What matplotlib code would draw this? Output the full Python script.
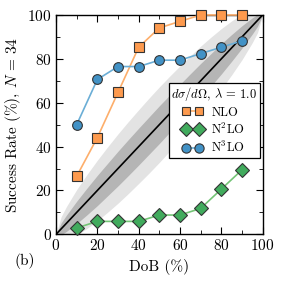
import numpy as np
import matplotlib
matplotlib.use("Agg")
import matplotlib.pyplot as plt
from matplotlib.ticker import MultipleLocator

# ── Data (success rate in %, N = 34) ──
dob = [10, 20, 30, 40, 50, 60, 70, 80, 90]
nlo = [26.5, 44.1, 64.7, 85.3, 94.1, 97.1, 100.0, 100.0, 100.0]
n2lo = [2.9, 5.9, 5.9, 5.9, 8.8, 8.8, 11.8, 20.6, 29.4]
n3lo = [50.0, 70.6, 76.5, 76.5, 79.4, 79.4, 82.4, 85.3, 88.2]

# band half-widths around the diagonal
band_x = [0, 2.5, 5, 10, 15, 20, 25, 30, 35, 40, 45, 50,
          55, 60, 65, 70, 75, 80, 85, 90, 95, 97.5, 100]
band_1 = [0, 2.7, 3.7, 5.1, 6.1, 6.9, 7.4, 7.9, 8.2, 8.4, 8.5, 8.6,
          8.5, 8.4, 8.2, 7.9, 7.4, 6.9, 6.1, 5.1, 3.7, 2.7, 0]
band_2 = [0, 5.6, 7.6, 10.4, 12.3, 13.8, 14.9, 15.8, 16.4, 16.8, 17.1, 17.2,
          17.1, 16.8, 16.4, 15.8, 14.9, 13.8, 12.3, 10.4, 7.6, 5.6, 0]

FS = 11

plt.rcParams["font.family"] = "serif"
plt.rcParams["font.serif"] = ["cmr10"]
plt.rcParams["mathtext.fontset"] = "cm"
plt.rcParams["axes.formatter.use_mathtext"] = True
plt.rcParams["font.size"] = FS

fig = plt.figure(figsize=(2.83, 2.83), dpi=100)
ax = fig.add_axes([0.198, 0.172, 0.730, 0.775])

bx = np.array(band_x)
b1 = np.array(band_1)
b2 = np.array(band_2)
ax.fill_between(bx, bx - b2, bx + b2, color="#e3e3e3", lw=0, zorder=1)
ax.fill_between(bx, bx - b1, bx + b1, color="#b5b5b5", lw=0, zorder=2)
ax.plot([0, 100], [0, 100], color="k", lw=1.2, zorder=3)

ax.plot(dob, nlo, marker="s", ms=6.5, color="#fdae6b", mfc="#fd9a4e",
        mec="#333333", mew=0.8, lw=1.2, label="NLO", zorder=5, clip_on=False)
ax.plot(dob, n2lo, marker="D", ms=7, color="#74c476", mfc="#41ab5d",
        mec="#333333", mew=0.8, lw=1.2, label=r"N$^2$LO", zorder=5, clip_on=False)
ax.plot(dob, n3lo, marker="o", ms=7, color="#6baed6", mfc="#4292c6",
        mec="#333333", mew=0.8, lw=1.2, label=r"N$^3$LO", zorder=5, clip_on=False)

ax.set_xlim(0, 100)
ax.set_ylim(0, 100)
ax.xaxis.set_major_locator(MultipleLocator(20))
ax.yaxis.set_major_locator(MultipleLocator(20))
ax.xaxis.set_minor_locator(MultipleLocator(10))
ax.yaxis.set_minor_locator(MultipleLocator(10))
ax.tick_params(which="both", direction="in", top=True, right=True,
               labelsize=FS)
ax.tick_params(which="major", length=5, width=0.8, pad=3)
ax.tick_params(which="minor", length=3, width=0.6)
for s in ax.spines.values():
    s.set_linewidth(1.0)

ax.set_xlabel("DoB (%)", labelpad=4)
ax.set_ylabel(r"Success Rate (%), $N$ = 34", labelpad=3)

leg = ax.legend(loc="lower right", bbox_to_anchor=(0.985, 0.35),
                title=r"$d\sigma/d\Omega$, $\lambda$ = 1.0", numpoints=2,
                fancybox=False, edgecolor="k", framealpha=1,
                borderaxespad=0, handlelength=1.6, handletextpad=0.7,
                labelspacing=0.25, borderpad=0.2, fontsize=9,
                title_fontsize=9, markerscale=0.95)
leg.get_frame().set_linewidth(0.9)
leg.set_zorder(10)

fig.text(0.05, 0.065, "(b)", fontsize=FS)

fig.savefig("out.png", dpi=100)
